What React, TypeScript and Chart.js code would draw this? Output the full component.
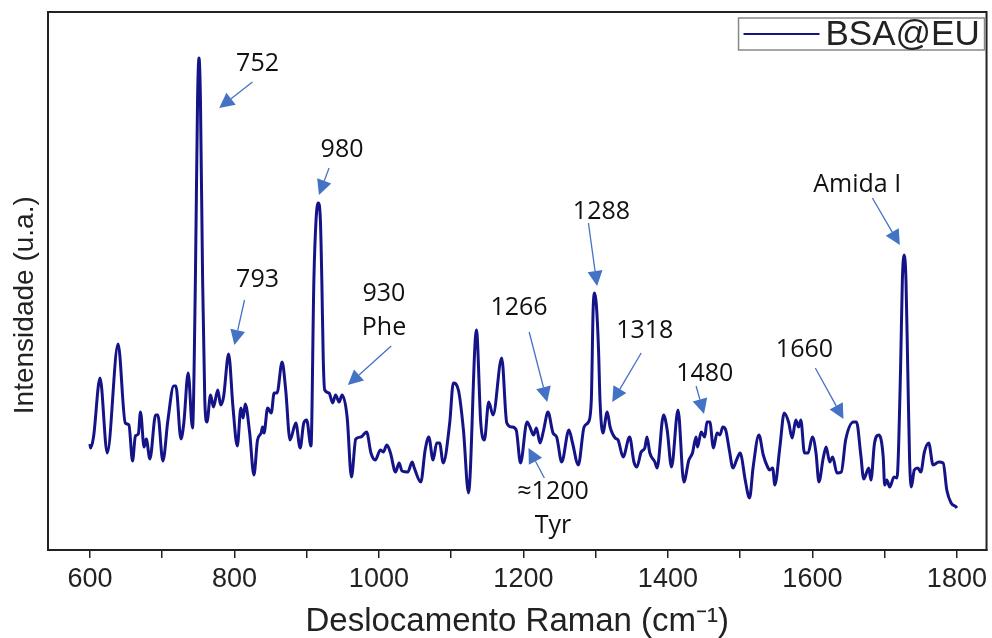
import React, { useEffect, useRef } from "react";
import { Chart, registerables } from "chart.js";

Chart.register(...registerables);

// Raman shift (cm-1)
const wavenumbers = [
  600, 601, 605, 614, 624, 639, 649, 654, 659, 663, 667, 670, 675, 678, 683, 691, 694, 701, 708, 716,
  719, 726, 730, 736, 742, 746, 749, 751, 753, 756, 759, 762, 767, 771, 777, 781, 785, 792, 798, 804,
  809, 812, 815, 821, 827, 832, 837, 839, 841, 846, 851, 855, 859, 866, 871, 877, 885, 891, 896, 900,
  906, 910, 913, 916, 919, 921, 923, 925, 931, 936, 940, 945, 949, 956, 962, 968, 975, 983, 989, 995,
  1002, 1006, 1011, 1016, 1023, 1028, 1032, 1040, 1046, 1049, 1058, 1064, 1069, 1075, 1080, 1084, 1089, 1098, 1103, 1110,
  1117, 1124, 1135, 1141, 1146, 1152, 1158, 1170, 1177, 1184, 1190, 1196, 1205, 1209, 1214, 1218, 1223, 1228, 1234, 1241,
  1246, 1253, 1263, 1268, 1276, 1284, 1290, 1294, 1296.5, 1298.5, 1301, 1304, 1306, 1310, 1316, 1320, 1327, 1331, 1338, 1347,
  1353, 1357, 1363, 1368, 1371, 1375, 1382, 1385, 1394, 1399, 1405, 1414, 1422, 1429, 1434, 1439, 1441, 1446, 1451, 1454,
  1458, 1463, 1468, 1472, 1476, 1480, 1485, 1490, 1495, 1500, 1502, 1507, 1513, 1518, 1526, 1532, 1538, 1541, 1545, 1548,
  1555, 1561, 1567, 1572, 1577, 1581, 1584, 1589, 1594, 1600, 1605, 1609, 1615, 1619, 1624, 1628, 1634, 1640, 1646, 1657,
  1661, 1667, 1671, 1678, 1681, 1686, 1692, 1698, 1700, 1703, 1707, 1713, 1717, 1722, 1724.5, 1727, 1729.5, 1732, 1734.5, 1737,
  1741, 1746, 1750, 1755, 1761, 1767, 1775, 1781, 1786, 1792, 1799, 1800,
];

// Intensity (a.u.)
const intensities = [
  106, 102, 113, 172, 97, 206, 127, 125, 89, 114, 116, 138, 103, 111, 91, 135, 135, 89, 130, 164,
  164, 111, 127, 177, 122, 270, 450, 492, 450, 270, 150, 128, 155, 143, 160, 145, 153, 196, 143, 104,
  142, 132, 146, 118, 75, 110, 117, 123, 117, 142, 137, 157, 157, 188, 160, 110, 127, 102, 127, 130,
  104, 270, 330, 347, 330, 270, 190, 160, 157, 147, 155, 148, 155, 133, 73, 111, 113, 118, 97, 90,
  100, 98, 105, 97, 78, 87, 79, 78, 88, 82, 68, 100, 113, 90, 107, 107, 87, 127, 167, 160,
  120, 57, 220, 127, 110, 148, 135, 192, 127, 123, 120, 87, 128, 123, 115, 122, 107, 120, 138, 117,
  113, 88, 120, 107, 85, 123, 128, 150, 240, 257, 245, 200, 150, 117, 138, 123, 112, 110, 93, 113,
  88, 83, 98, 102, 113, 97, 88, 82, 135, 120, 83, 140, 68, 90, 97, 113, 103, 118, 113, 128,
  128, 102, 117, 115, 123, 120, 100, 82, 90, 97, 93, 70, 52, 83, 115, 95, 83, 80, 82, 65,
  103, 137, 128, 112, 130, 123, 130, 97, 97, 113, 97, 68, 92, 103, 88, 93, 77, 78, 110, 128,
  128, 95, 71, 82, 70, 107, 115, 93, 65, 70, 63, 73, 72, 180, 270, 295, 270, 180, 90, 63,
  80, 82, 78, 98, 107, 85, 88, 87, 60, 47, 43, 42,
];

const xTickValues = [600, 700, 800, 900, 1000, 1100, 1200, 1300, 1400, 1500, 1600, 1700, 1800];
const xLabelValues = [600, 800, 1000, 1200, 1400, 1600, 1800];

const seriesName = "BSA@EU";
const xTitle = "Deslocamento Raman (cm\u207B\u00B9)";
const yTitle = "Intensidade (u.a.)";

// Peak annotations: text lines, text centre, arrow tail and arrow head (data units)
const annotationTexts = [["752"], ["980"], ["793"], ["930", "Phe"], ["1266"], ["1288"], ["1318"], ["1480"], ["1660"], ["Amida I"], ["\u22481200", "Tyr"]];
const annotationTextAt = [[832, 486], [949, 400], [832, 270], [1007, 256], [1194, 242], [1308, 338], [1368, 219], [1451, 176], [1589, 200], [1662, 365], [1241, 58]];
const annotationTail = [[825, 468], [931, 382], [814, 250], [1017, 204], [1208, 218], [1290, 327], [1363, 197], [1439, 164], [1604, 182], [1683, 352], [1229, 72]];
const annotationHead = [[779, 442], [917, 355], [800, 205], [957, 165], [1233, 148], [1302, 264], [1323, 148], [1450, 136], [1643, 131], [1721, 305], [1207, 102]];

const SANS = "'Liberation Sans', Arial, sans-serif";

const overlayPlugin = {
  id: "overlay",
  afterDraw(chart: any) {
    const { ctx, chartArea: a, scales } = chart;
    const xs = scales.x;
    const ys = scales.y;
    ctx.save();
    // frame
    ctx.strokeStyle = "#222";
    ctx.lineWidth = 2;
    ctx.strokeRect(a.left, a.top, a.right - a.left, a.bottom - a.top);

    // y title
    ctx.save();
    ctx.translate(25, a.top + (a.bottom - a.top) * 0.545);
    ctx.rotate(-Math.PI / 2);
    ctx.fillStyle = "#222";
    ctx.font = "28px " + SANS;
    ctx.textAlign = "center";
    ctx.textBaseline = "middle";
    ctx.fillText(yTitle, 0, 0);
    ctx.restore();

    // annotations
    ctx.font = "25px 'Open Sans', 'DejaVu Sans', sans-serif";
    ctx.textAlign = "center";
    ctx.textBaseline = "middle";
    annotationTexts.forEach((lines, i) => {
      const tx = xs.getPixelForValue(annotationTextAt[i][0]);
      const ty = ys.getPixelForValue(annotationTextAt[i][1]);
      ctx.fillStyle = "#111";
      lines.forEach((ln, j) => ctx.fillText(ln, tx, ty + j * 34));
      const x1 = xs.getPixelForValue(annotationTail[i][0]);
      const y1 = ys.getPixelForValue(annotationTail[i][1]);
      const x2 = xs.getPixelForValue(annotationHead[i][0]);
      const y2 = ys.getPixelForValue(annotationHead[i][1]);
      const ang = Math.atan2(y2 - y1, x2 - x1);
      const hl = 15, hw = 7.5;
      const bx = x2 - hl * Math.cos(ang);
      const by = y2 - hl * Math.sin(ang);
      ctx.strokeStyle = "#4472C4";
      ctx.fillStyle = "#4472C4";
      ctx.lineWidth = 1.3;
      ctx.beginPath();
      ctx.moveTo(x1, y1);
      ctx.lineTo(bx, by);
      ctx.stroke();
      ctx.beginPath();
      ctx.moveTo(x2, y2);
      ctx.lineTo(bx + hw * Math.sin(ang), by - hw * Math.cos(ang));
      ctx.lineTo(bx - hw * Math.sin(ang), by + hw * Math.cos(ang));
      ctx.closePath();
      ctx.fill();
    });

    // legend
    const lw = 246, lh = 32;
    const lx = a.right - lw - 2;
    const ly = a.top + 6;
    ctx.strokeStyle = "#888";
    ctx.lineWidth = 1.5;
    ctx.strokeRect(lx, ly, lw, lh);
    ctx.strokeStyle = "#141488";
    ctx.lineWidth = 2;
    ctx.beginPath();
    ctx.moveTo(lx + 5, ly + lh / 2);
    ctx.lineTo(lx + 81, ly + lh / 2);
    ctx.stroke();
    ctx.fillStyle = "#222";
    ctx.font = "35px " + SANS;
    ctx.textAlign = "left";
    ctx.textBaseline = "middle";
    ctx.fillText(seriesName, lx + 87, ly + lh / 2 + 1);
    ctx.restore();
  },
};

export default function App() {
  const ref = useRef<HTMLCanvasElement>(null);
  useEffect(() => {
    if (!ref.current) return;
    const chart = new Chart(ref.current, {
      type: "line",
      data: {
        datasets: [
          {
            label: seriesName,
            data: wavenumbers.map((x, i) => ({ x, y: intensities[i] })),
            borderColor: "#141488",
            borderWidth: 3,
            pointRadius: 0,
            cubicInterpolationMode: "monotone",
            fill: false,
          },
        ],
      },
      options: {
        animation: false,
        responsive: false,
        devicePixelRatio: 1,
        layout: { padding: { top: 12, right: 2, left: 0, bottom: 0 } },
        plugins: { legend: { display: false }, tooltip: { enabled: false } },
        scales: {
          x: {
            type: "linear",
            min: 542,
            max: 1841,
            afterBuildTicks: (s: any) => {
              s.ticks = xTickValues.map((v) => ({ value: v }));
            },
            afterFit: (s: any) => {
              s.height = 88;
            },
            ticks: {
              autoSkip: false,
              maxRotation: 0,
              padding: 5,
              color: "#222",
              font: { family: SANS, size: 27 },
              callback: (v: any) => (xLabelValues.includes(Number(v)) ? String(v) : ""),
            },
            grid: { drawOnChartArea: false, drawTicks: true, tickLength: 8, color: "#222", lineWidth: 1.5 },
            border: { display: true, color: "#222", width: 2 },
            title: {
              display: true,
              text: xTitle,
              color: "#222",
              font: { family: SANS, size: 33, lineHeight: 1 },
              padding: { top: 0, bottom: 0 },
            },
          },
          y: {
            type: "linear",
            min: 0,
            max: 538,
            afterFit: (s: any) => {
              s.width = 48;
            },
            ticks: { display: false },
            grid: { display: false, drawTicks: false },
            border: { display: false },
            title: { display: false },
          },
        },
      },
      plugins: [overlayPlugin],
    } as any);
    return () => chart.destroy();
  }, []);
  return (
    <div style={{ position: "fixed", left: 0, top: 0, width: 992, height: 638, background: "#fff" }}>
      <canvas ref={ref} width={992} height={638} style={{ display: "block", width: 992, height: 638 }} />
    </div>
  );
}
